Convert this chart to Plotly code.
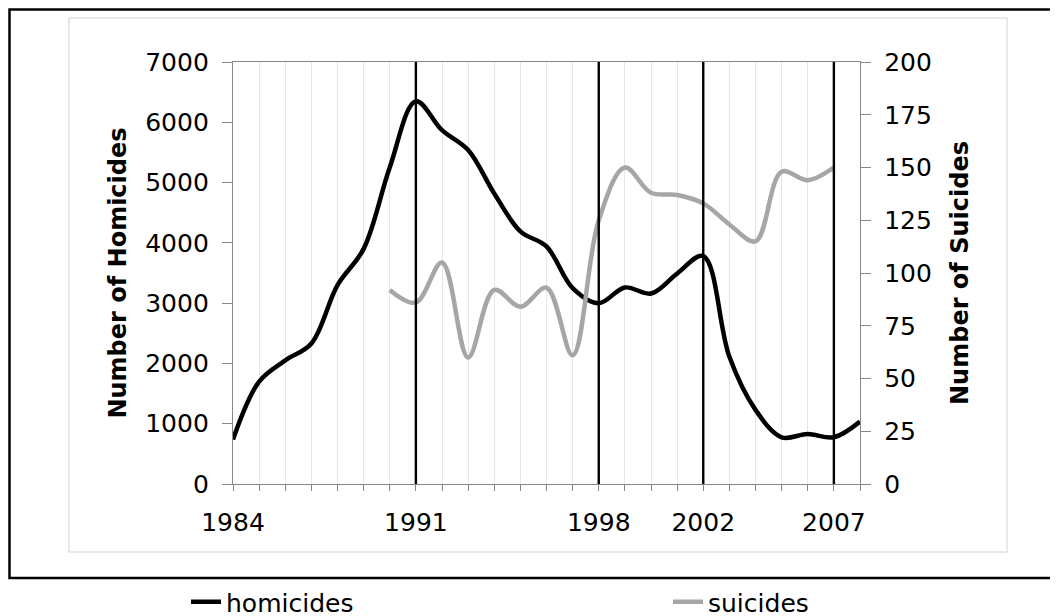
import plotly.graph_objects as go

years = list(range(1984, 2009))
homicides = [740, 1700, 2050, 2330, 3300, 3900, 5250, 6350, 5870, 5540, 4820, 4190,
             3940, 3250, 3000, 3260, 3160, 3490, 3780, 2110, 1230, 775, 830, 775, 1035]
suicide_years = list(range(1990, 2008))
suicides = [92, 86, 105, 60, 92, 84, 93, 61, 125, 150, 138, 137, 133, 123, 115, 148, 144, 150]
marker_years = [1991, 1998, 2002, 2007]
labelled_years = [1984, 1991, 1998, 2002, 2007]
left_ticks = list(range(0, 7001, 1000))
right_ticks = list(range(0, 201, 25))

# page body has an 8px margin, so the figure starts at (8, 8) of the window
OFF = 8
WIN_W, WIN_H = 1058, 616
W, H = WIN_W - OFF, WIN_H - OFF
# plot area in window pixels
L, R, T, B = 233, 860, 62, 484
pw, ph = R - L, B - T

def px(x):
    return (x - L) / pw

def py(y):
    return (B - y) / ph

FONT = "DejaVu Sans"

fig = go.Figure()
fig.add_trace(go.Scatter(x=years, y=homicides, name="homicides", mode="lines", legend="legend",
                         line=dict(color="#000000", width=4.5, shape="spline", smoothing=1)))
fig.add_trace(go.Scatter(x=suicide_years, y=suicides, name="suicides", mode="lines", yaxis="y2",
                         legend="legend2",
                         line=dict(color="#a6a6a6", width=4.5, shape="spline", smoothing=1)))

shapes = []
for yr in marker_years:
    shapes.append(dict(type="line", xref="x", yref="paper", x0=yr, x1=yr, y0=0, y1=1,
                       line=dict(color="#000000", width=2.4), layer="above"))
# inner chart area border
shapes.append(dict(type="rect", xref="paper", yref="paper",
                   x0=px(69), x1=px(1007), y0=py(552), y1=py(18),
                   line=dict(color="#d2d2d2", width=1), layer="below"))
# outer black frame
shapes.append(dict(type="rect", xref="paper", yref="paper",
                   x0=px(9.5), x1=px(1070), y0=py(578), y1=py(9.5),
                   line=dict(color="#000000", width=2.5), layer="above"))

axis_col = "#878787"
leg_common = dict(orientation="h", yanchor="middle", xanchor="left",
                  font=dict(family=FONT, size=25, color="#000000"),
                  bgcolor="rgba(0,0,0,0)", borderwidth=0)
fig.update_layout(
    width=W, height=H,
    margin=dict(l=L - OFF, r=WIN_W - R, t=T - OFF, b=WIN_H - B, autoexpand=False),
    paper_bgcolor="white", plot_bgcolor="white",
    font=dict(family=FONT, size=25, color="#000000"),
    showlegend=True,
    legend=dict(x=px(186), y=py(602), **leg_common),
    legend2=dict(x=px(668), y=py(602), **leg_common),
    xaxis=dict(range=[1984, 2008], tickmode="array", tickvals=years,
               ticktext=[str(y) if y in labelled_years else "" for y in years],
               showgrid=True, gridcolor="#e6e6e6", gridwidth=1,
               showline=True, linecolor=axis_col, linewidth=1.3, mirror=True,
               ticks="outside", ticklen=6, tickcolor=axis_col, tickwidth=1.3,
               ticklabelstandoff=10,
               tickfont=dict(size=25), zeroline=False, automargin=False),
    yaxis=dict(range=[0, 7000], tickvals=left_ticks, showgrid=False, zeroline=False,
               showline=True, linecolor=axis_col, linewidth=1.3,
               ticks="outside", ticklen=10, tickcolor=axis_col, tickwidth=1.3,
               ticklabelstandoff=8,
               tickfont=dict(size=25), automargin=False,
               title=dict(text="<b>Number of Homicides</b>", font=dict(size=24), standoff=11)),
    yaxis2=dict(range=[0, 200], tickvals=right_ticks, overlaying="y", side="right",
                showgrid=False, zeroline=False, automargin=False,
                showline=True, linecolor=axis_col, linewidth=1.3,
                ticks="outside", ticklen=10, tickcolor=axis_col, tickwidth=1.3,
                ticklabelstandoff=8,
                tickfont=dict(size=25),
                title=dict(text="<b>Number of Suicides</b>", font=dict(size=24), standoff=20)),
    shapes=shapes,
)

fig.write_html("out.html")
